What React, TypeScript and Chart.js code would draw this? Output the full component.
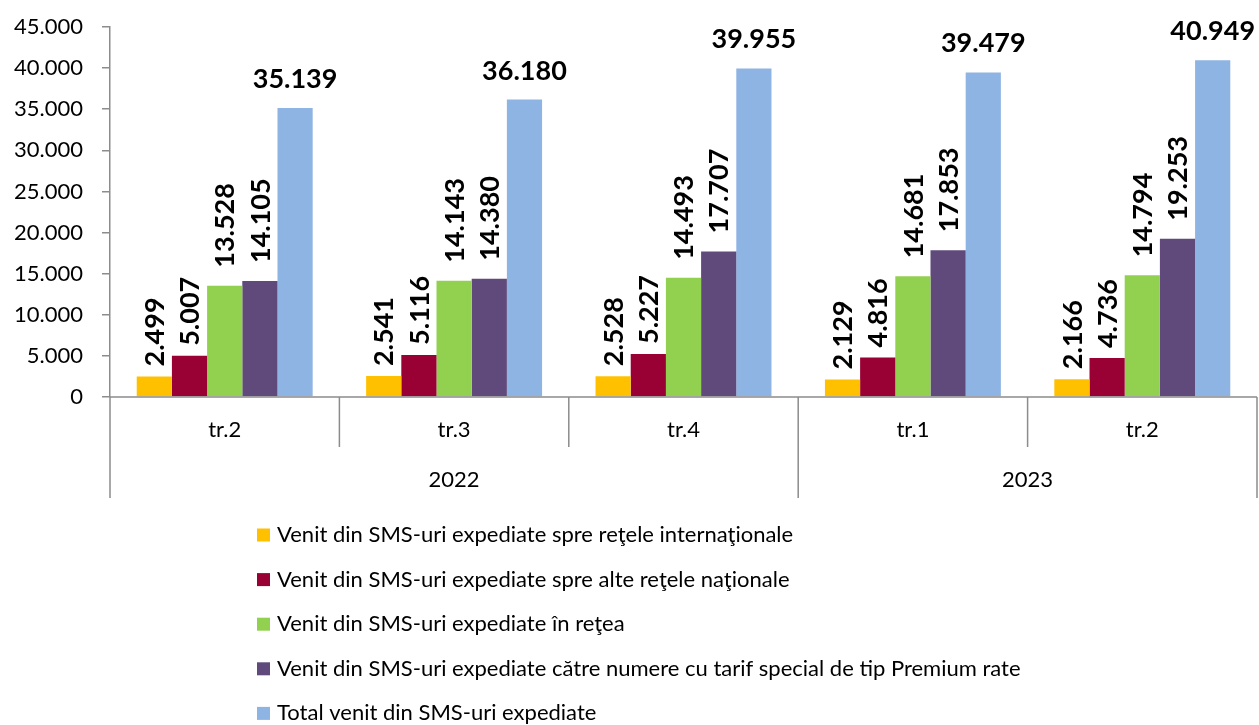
import React, { useEffect, useRef } from "react";
import { Chart, registerables } from "chart.js";

Chart.register(...registerables);

// ---- data ----
const quarters = ["tr.2", "tr.3", "tr.4", "tr.1", "tr.2"];
const years = ["2022", "2022", "2022", "2023", "2023"];

const seriesNames = [
  "Venit din SMS-uri expediate spre reţele internaţionale",
  "Venit din SMS-uri expediate spre alte reţele naţionale",
  "Venit din SMS-uri expediate în reţea",
  "Venit din SMS-uri expediate către numere cu tarif special de tip Premium rate",
  "Total venit din SMS-uri expediate",
];

const internationalRevenue = [2499, 2541, 2528, 2129, 2166];
const nationalRevenue = [5007, 5116, 5227, 4816, 4736];
const inNetworkRevenue = [13528, 14143, 14493, 14681, 14794];
const premiumRevenue = [14105, 14380, 17707, 17853, 19253];
const totalRevenue = [35139, 36180, 39955, 39479, 40949];

const yMin = 0;
const yMax = 45000;
const yStep = 5000;

// ---- styles ----
const colors = ["#FFC000", "#990033", "#92D050", "#604A7B", "#8EB4E3"];
const FONT = "Lato, 'Open Sans', sans-serif";
const AXIS = "#8C8C8C";
const TEXT = "#000000";

const fmt = (v: number) =>
  String(Math.round(v)).replace(/\B(?=(\d{3})+(?!\d))/g, ".");

const dataLabelPlugin = {
  id: "dataLabels",
  afterDatasetsDraw(chart: any) {
    const ctx = chart.ctx;
    ctx.save();
    ctx.fillStyle = TEXT;
    ctx.font = `bold 27px ${FONT}`;
    chart.data.datasets.forEach((ds: any, di: number) => {
      const meta = chart.getDatasetMeta(di);
      meta.data.forEach((bar: any, i: number) => {
        const text = fmt(ds.data[i]);
        if (di < chart.data.datasets.length - 1) {
          const gap = text.length > 5 ? 18 : 10;
          ctx.save();
          ctx.translate(bar.x, bar.y - gap);
          ctx.rotate(-Math.PI / 2);
          ctx.textAlign = "left";
          ctx.textBaseline = "middle";
          ctx.fillText(text, 0, 1);
          ctx.restore();
        } else {
          ctx.textAlign = "center";
          ctx.textBaseline = "alphabetic";
          ctx.fillText(text, bar.x, bar.y - 20);
        }
      });
    });
    ctx.restore();
  },
};

const groupAxisPlugin = {
  id: "groupAxis",
  afterDraw(chart: any) {
    const { ctx, chartArea } = chart;
    const xs = chart.scales.x;
    const n = quarters.length;
    const step = (chartArea.right - chartArea.left) / n;
    const bottom = chartArea.bottom;
    const boundary = (k: number) =>
      k < n ? xs.getPixelForValue(k) - step / 2 : xs.getPixelForValue(n - 1) + step / 2;

    ctx.save();
    ctx.strokeStyle = AXIS;
    ctx.lineWidth = 1.5;
    ctx.beginPath();
    ctx.moveTo(chartArea.left, bottom);
    ctx.lineTo(chartArea.right, bottom);
    for (let k = 0; k <= n; k++) {
      const isYear = k === 0 || k === n || years[k] !== years[k - 1];
      const x = boundary(k);
      ctx.moveTo(x, bottom);
      ctx.lineTo(x, bottom + (isYear ? 101 : 50));
    }
    ctx.stroke();

    ctx.fillStyle = TEXT;
    ctx.font = `22px ${FONT}`;
    ctx.textAlign = "center";
    ctx.textBaseline = "middle";
    quarters.forEach((q, i) => {
      ctx.fillText(q, xs.getPixelForValue(i), bottom + 33);
    });
    let start = 0;
    for (let k = 1; k <= n; k++) {
      if (k === n || years[k] !== years[start]) {
        const cx = (boundary(start) + boundary(k)) / 2;
        ctx.fillText(years[start], cx, bottom + 83);
        start = k;
      }
    }
    ctx.restore();
  },
};

const legendPlugin = {
  id: "customLegend",
  afterDraw(chart: any) {
    const { ctx, chartArea } = chart;
    ctx.save();
    ctx.font = `22px ${FONT}`;
    ctx.textAlign = "left";
    ctx.textBaseline = "middle";
    chart.data.datasets.forEach((ds: any, i: number) => {
      const cy = chartArea.bottom + 138 + i * 44.6;
      ctx.fillStyle = ds.backgroundColor;
      ctx.fillRect(257, cy - 6.5, 13, 13);
      ctx.fillStyle = TEXT;
      ctx.fillText(ds.label, 277, cy);
    });
    ctx.restore();
  },
};

export default function App() {
  const canvasRef = useRef<HTMLCanvasElement | null>(null);

  useEffect(() => {
    if (!canvasRef.current) return;
    const series = [
      internationalRevenue,
      nationalRevenue,
      inNetworkRevenue,
      premiumRevenue,
      totalRevenue,
    ];
    const chart = new Chart(canvasRef.current, {
      type: "bar",
      data: {
        labels: quarters,
        datasets: series.map((d, i) => ({
          label: seriesNames[i],
          data: d,
          backgroundColor: colors[i],
          borderWidth: 0,
          categoryPercentage: 0.767,
          barPercentage: 1,
        })),
      },
      options: {
        animation: false,
        responsive: false,
        layout: { padding: { top: 27, right: 2, bottom: 328, left: 0 } },
        plugins: {
          legend: { display: false },
          tooltip: { enabled: false },
        },
        scales: {
          x: {
            display: false,
            offset: true,
          },
          y: {
            min: yMin,
            max: yMax,
            afterFit: (s: any) => {
              s.width = 110;
              s.paddingTop = 0;
              s.paddingBottom = 0;
            },
            ticks: {
              stepSize: yStep,
              padding: 19,
              color: TEXT,
              font: { family: FONT, size: 22 },
              callback: (v: any) => fmt(Number(v)),
            },
            grid: {
              drawOnChartArea: false,
              drawTicks: true,
              tickLength: 8,
              color: AXIS,
              lineWidth: 1.5,
            },
            border: { display: true, color: AXIS, width: 1.5 },
          },
        },
      },
      plugins: [dataLabelPlugin, groupAxisPlugin, legendPlugin],
    });
    return () => chart.destroy();
  }, []);

  return (
    <div style={{ position: "absolute", left: 0, top: 0, width: 1259, height: 725, background: "#fff" }}>
      <canvas ref={canvasRef} width={1259} height={725} />
    </div>
  );
}
